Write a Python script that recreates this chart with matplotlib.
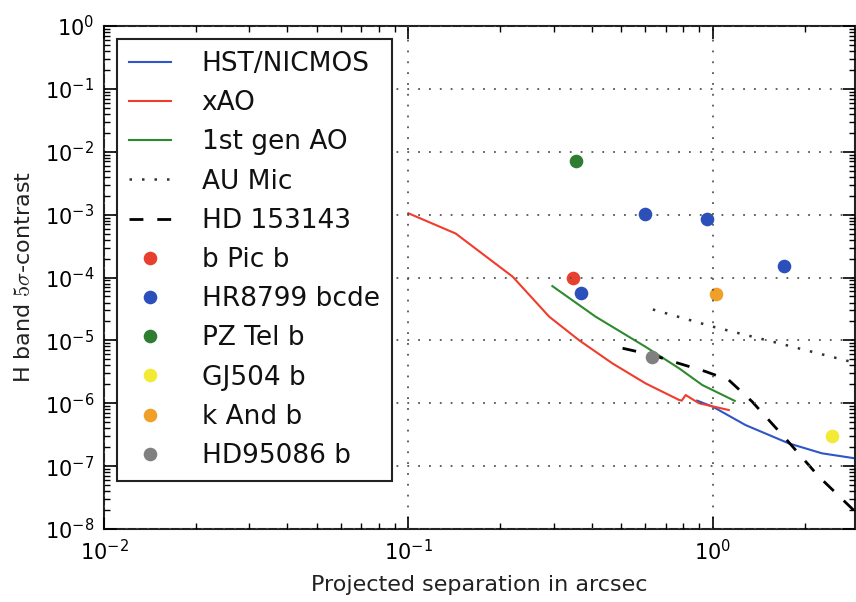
import matplotlib
matplotlib.use("Agg")
import matplotlib.pyplot as plt
import numpy as np

# ---- data ----
hst_x = [0.888, 1.0, 1.28, 1.776, 2.28, 2.93]
hst_y = [1.1e-6, 8.8e-7, 4.5e-7, 2.3e-7, 1.6e-7, 1.33e-7]

xao_x = [0.1, 0.143, 0.22, 0.29, 0.364, 0.468, 0.601, 0.774, 0.79, 0.814, 0.90, 1.128]
xao_y = [1.05e-3, 5.0e-4, 1.03e-4, 2.38e-5, 1.0e-5, 4.3e-6, 2.07e-6, 1.13e-6, 1.1e-6, 1.35e-6, 1.0e-6, 7.8e-7]

ao1_x = [0.297, 0.412, 0.601, 0.774, 0.923, 1.18]
ao1_y = [7.3e-5, 2.38e-5, 7.9e-6, 3.6e-6, 1.95e-6, 1.09e-6]

aumic_x = [0.635, 1.0, 1.646, 2.93]
aumic_y = [3.1e-5, 1.65e-5, 9.0e-6, 4.4e-6]

hd153_x = [0.505, 0.633, 0.774, 0.946, 1.128, 1.346, 1.75, 2.23, 2.93]
hd153_y = [7.5e-6, 5.85e-6, 4.3e-6, 3.2e-6, 2.34e-6, 1.06e-6, 2.6e-7, 6.8e-8, 1.9e-8]

bpic_x, bpic_y = [0.348], [1.0e-4]
hr8799_x = [0.368, 0.597, 0.958, 1.71]
hr8799_y = [5.7e-5, 1.02e-3, 8.6e-4, 1.55e-4]
pztel_x, pztel_y = [0.356], [7.1e-3]
gj504_x, gj504_y = [2.47], [3.0e-7]
kand_x, kand_y = [1.025], [5.47e-5]
hd95_x, hd95_y = [0.63], [5.5e-6]

fig = plt.figure(figsize=(8.56, 6.02), dpi=100)
ax = fig.add_axes([104/856, 1-529/602, (855-104)/856, (529-26)/602])

ax.plot(hst_x, hst_y, color="#2f55c8", lw=1.5, label="HST/NICMOS")
ax.plot(xao_x, xao_y, color="#f03c2c", lw=1.5, label="xAO")
ax.plot(ao1_x, ao1_y, color="#2e8a2e", lw=1.5, label="1st gen AO")
ax.plot(aumic_x, aumic_y, color="#333333", lw=1.8, ls=(0, (1, 4)), label="AU Mic")
ax.plot(hd153_x, hd153_y, color="black", lw=2.0, ls=(0, (5, 5)), label="HD 153143")

ms = 9.8
ax.plot(bpic_x, bpic_y, "o", color="#e8402e", ms=ms, mec="none", label="b Pic b")
ax.plot(hr8799_x, hr8799_y, "o", color="#2b50bc", ms=ms, mec="none", label="HR8799 bcde")
ax.plot(pztel_x, pztel_y, "o", color="#2e7d32", ms=ms, mec="none", label="PZ Tel b")
ax.plot(gj504_x, gj504_y, "o", color="#f2ea34", ms=ms, mec="none", label="GJ504 b")
ax.plot(kand_x, kand_y, "o", color="#f0a028", ms=ms, mec="none", label="k And b")
ax.plot(hd95_x, hd95_y, "o", color="#808080", ms=ms, mec="none", label="HD95086 b")

ax.set_xscale("log")
ax.set_yscale("log")
ax.set_xlim(0.01, 2.93)
ax.set_ylim(1e-8, 1)
ax.set_yticks([10.0**k for k in range(-8, 1)])
ax.set_xticks([1e-2, 1e-1, 1e0])

ax.set_axisbelow(False)
ax.grid(True, which="major", color="#555555", ls=(0, (1, 5)), lw=1.3)

ax.tick_params(which="both", direction="in", top=True, right=True, labelsize=15)
ax.tick_params(which="major", length=9, width=1.2, pad=7)
ax.tick_params(which="minor", length=4.5, width=1.0)
for s in ax.spines.values():
    s.set_linewidth(1.5)
    s.set_color("#222222")

ax.set_xlabel("Projected separation in arcsec", fontsize=16, color="#222222", labelpad=8)
ax.set_ylabel(r"H band $5\sigma$-contrast", fontsize=16, color="#222222",
              math_fontfamily="cm", labelpad=8)

leg = ax.legend(loc="upper left", fontsize=19, numpoints=1, fancybox=False,
                framealpha=1, edgecolor="#222222", handlelength=1.6,
                handletextpad=1.15, labelspacing=0.5, borderpad=0.45,
                borderaxespad=0.5)
leg.get_frame().set_linewidth(1.5)
for t in leg.get_texts():
    t.set_color("#111111")

fig.savefig("out.png", dpi=100)
